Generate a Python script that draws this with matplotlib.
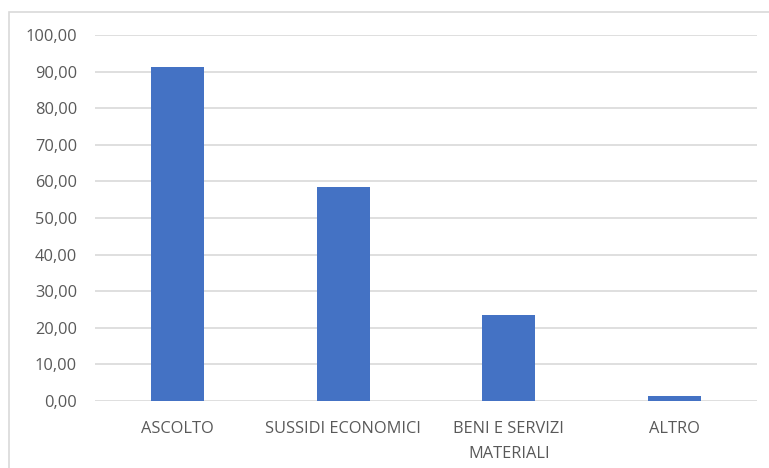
import matplotlib
matplotlib.use("Agg")
import matplotlib.pyplot as plt
from matplotlib.patches import Rectangle
from matplotlib.ticker import FuncFormatter

categories = ["ASCOLTO", "SUSSIDI ECONOMICI", "BENI E SERVIZI\nMATERIALI", "ALTRO"]
values = [91.2, 58.6, 23.4, 1.5]
y_ticks = [0, 10, 20, 30, 40, 50, 60, 70, 80, 90, 100]

plt.rcParams["font.family"] = ["Open Sans", "DejaVu Sans"]

fig = plt.figure(figsize=(7.69, 4.68), dpi=100)
ax = fig.add_axes([95 / 769, 1 - 401 / 468, 662 / 769, 366 / 468])

x = list(range(len(categories)))
ax.bar(x, values, width=0.32, color="#4472C4", zorder=3)

ax.set_xlim(-0.5, len(categories) - 0.5)
ax.set_ylim(0, 100)
ax.set_yticks(y_ticks)
ax.yaxis.set_major_formatter(FuncFormatter(lambda v, _: f"{v:.2f}".replace(".", ",")))
ax.set_xticks(x)
ax.set_xticklabels(categories, linespacing=1.72)

ax.grid(axis="y", color="#D9D9D9", linewidth=1.2, zorder=0)
for s in ax.spines.values():
    s.set_visible(False)
ax.tick_params(axis="both", length=0, colors="#595959", labelsize=11.8)
ax.tick_params(axis="y", pad=13)
ax.tick_params(axis="x", pad=14.5)

# chart frame
fig.patches.append(Rectangle((8.5 / 769, -0.01), 1.2, 1 - 11.5 / 468 + 0.01,
                             transform=fig.transFigure, fill=False,
                             edgecolor="#D9D9D9", linewidth=1.2))

fig.savefig("out.png", dpi=100)
